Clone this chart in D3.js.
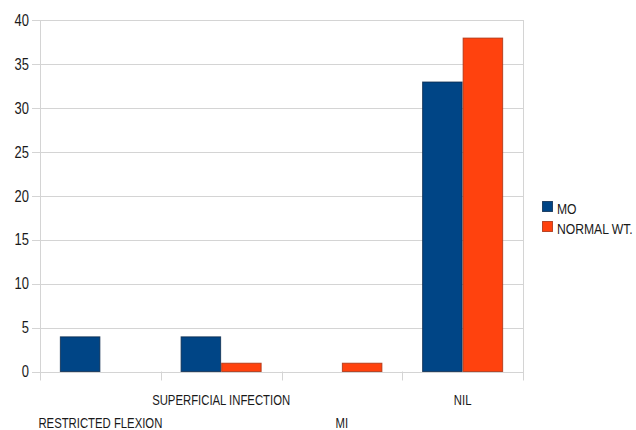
<!DOCTYPE html>
<html>
<head>
<meta charset="utf-8">
<script src="https://cdn.jsdelivr.net/npm/d3@7"></script>
<style>
  html, body { margin: 0; padding: 0; background: #fff; }
  svg { display: block; }
  text { font-family: "Liberation Sans", Arial, sans-serif; fill: #1a1a1a; }
</style>
</head>
<body>
<svg id="chart" width="636" height="430"></svg>
<script>
// Complications by group
const categories = ["RESTRICTED FLEXION", "SUPERFICIAL INFECTION", "MI", "NIL"];
const seriesNames = ["MO", "NORMAL WT."];
const moValues = [4, 4, 0, 33];
const normalWtValues = [0, 1, 1, 38];
const yTicks = [0, 5, 10, 15, 20, 25, 30, 35, 40];

const colors = { "MO": "#004586", "NORMAL WT.": "#ff420e" };
const strokes = { "MO": "#0b2a4d", "NORMAL WT.": "#a8300f" };

// narrow lettering: regular sans squeezed horizontally
const narrow = 0.81;

const rows = categories.map((c, i) => ({
  category: c,
  values: [
    { series: "MO", value: moValues[i] },
    { series: "NORMAL WT.", value: normalWtValues[i] }
  ]
}));

const svg = d3.select("#chart");
const plot = { left: 40, right: 523, top: 20, bottom: 371.5 };
const gridColor = "#d4d4d4";

const x0 = d3.scaleBand().domain(categories).range([plot.left, plot.right]).padding(0);
const x1 = d3.scaleBand().domain(seriesNames).range([0, x0.bandwidth()])
  .paddingInner(0).paddingOuter(0.49);
const y = d3.scaleLinear().domain([0, 40]).range([plot.bottom, plot.top]);

// horizontal gridlines with short outside ticks
svg.append("g").selectAll("line").data(yTicks).join("line")
  .attr("x1", plot.left - 8).attr("x2", plot.right)
  .attr("y1", d => Math.round(y(d)) + 0.5).attr("y2", d => Math.round(y(d)) + 0.5)
  .attr("stroke", gridColor).attr("stroke-width", 1);

// vertical axis line and right frame
svg.append("line")
  .attr("x1", plot.left + 0.5).attr("x2", plot.left + 0.5)
  .attr("y1", plot.top).attr("y2", plot.bottom + 9)
  .attr("stroke", gridColor);
svg.append("line")
  .attr("x1", plot.right + 0.5).attr("x2", plot.right + 0.5)
  .attr("y1", plot.top).attr("y2", plot.bottom + 9)
  .attr("stroke", gridColor);

// category boundary ticks below the baseline
const boundaries = categories.slice(1).map(c => x0(c));
svg.append("g").selectAll("line").data(boundaries).join("line")
  .attr("x1", d => Math.round(d) + 0.5).attr("x2", d => Math.round(d) + 0.5)
  .attr("y1", plot.bottom).attr("y2", plot.bottom + 9)
  .attr("stroke", gridColor);

// y tick labels
svg.append("g").selectAll("text").data(yTicks).join("text")
  .attr("transform", d => `translate(29,${y(d)}) scale(${narrow},1)`)
  .attr("dy", "0.36em")
  .attr("text-anchor", "end")
  .style("font-size", "16px")
  .text(d => d);

// bars
const groups = svg.append("g").selectAll("g").data(rows).join("g")
  .attr("transform", d => `translate(${x0(d.category)},0)`);
groups.selectAll("rect").data(d => d.values.filter(v => v.value > 0)).join("rect")
  .attr("x", d => x1(d.series) + 0.5)
  .attr("width", x1.bandwidth() - 1)
  .attr("y", d => y(d.value) + 0.5)
  .attr("height", d => y(0) - y(d.value) - 0.5)
  .attr("fill", d => colors[d.series])
  .attr("stroke", d => strokes[d.series])
  .attr("stroke-width", 1)
  .attr("stroke-opacity", 0.8);

// staggered category labels
svg.append("g").selectAll("text").data(categories).join("text")
  .attr("transform", (d, i) =>
    `translate(${x0(d) + x0.bandwidth() / 2},${i % 2 === 1 ? 405 : 428}) scale(${narrow},1)`)
  .attr("text-anchor", "middle")
  .style("font-size", "14px")
  .text(d => d);

// legend
const legend = svg.append("g").selectAll("g").data(seriesNames).join("g")
  .attr("transform", (d, i) => `translate(542,${201 + i * 20})`);
legend.append("rect")
  .attr("x", 0.5).attr("y", 0.5).attr("width", 10).attr("height", 10)
  .attr("fill", d => colors[d])
  .attr("stroke", d => strokes[d]).attr("stroke-opacity", 0.8);
legend.append("text")
  .attr("transform", `translate(15,13) scale(${narrow},1)`)
  .style("font-size", "15px")
  .text(d => d);
</script>
</body>
</html>
